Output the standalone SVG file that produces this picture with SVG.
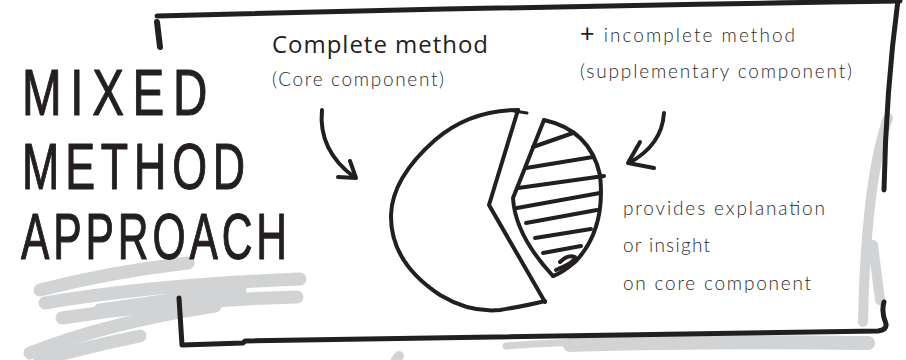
<svg xmlns="http://www.w3.org/2000/svg" width="906" height="360" viewBox="0 0 906 360">
  <style>
    .ink { fill: none; stroke: #231f20; stroke-linecap: round; stroke-linejoin: round; }
    .shade { fill: none; stroke: #d1d3d4; stroke-linecap: round; stroke-linejoin: round; }
    .title { font-family: "Liberation Sans", Arial, sans-serif; font-size: 56px; fill: #231f20; stroke: #231f20; stroke-width: 1; stroke-linejoin: round; }
    .head { font-family: "Open Sans", "Liberation Sans", sans-serif; font-size: 24px; fill: #231f20; }
    .note { font-family: "Lato", "Open Sans", sans-serif; font-weight: 300; font-size: 19px; fill: #2e2a2b; }
  </style>
  <rect width="906" height="360" fill="#ffffff"/>

  <!-- grey marker scribbles behind the frame -->
  <g id="scribbles">
    <g class="shade" stroke-width="13">
      <path d="M40 290 Q110 272 188 263"/>
      <path d="M45 303 Q150 285 300 279"/>
      <path d="M62 318 Q180 300 297 297"/>
      <path d="M30 353 Q110 322 215 306"/>
      <path d="M40 360 Q90 346 140 336"/>
      <path d="M100 310 L240 290"/>
    </g>
    <g class="shade" stroke-width="14">
      <path d="M570 345 Q700 341 868 343"/>
    </g>
    <g class="shade" stroke-width="7">
      <path d="M506 346 Q560 342 620 341"/>
    </g>
    <g class="shade" stroke-width="10">
      <path d="M888 118 Q866 180 863 322"/>
      <path d="M873 245 L880 300"/>
      <path d="M396 360 L399 356"/>
    </g>
  </g>

  <!-- hand-drawn frame -->
  <g id="frame" class="ink">
    <path d="M157 16 Q500 7 900 1" stroke-width="5"/>
    <path d="M157 22 L160 47" stroke-width="6"/>
    <path d="M898 0 Q886 90 884 190" stroke-width="5"/>
    <path d="M179 298 L182 345 L243 343 L245 341 Q550 336 878 331 Q887 330 886 324 Q881 312 884 302" stroke-width="5"/>
  </g>

  <!-- title, narrowed and stretched vertically -->
  <g id="title">
    <text class="title" transform="translate(22 115) scale(0.85 1.17)" textLength="218" lengthAdjust="spacing">MIXED</text>
    <text class="title" transform="translate(22 189) scale(0.8 1.17)" textLength="279" lengthAdjust="spacing">METHOD</text>
    <text class="title" transform="translate(21 259) scale(0.76 1.17)" textLength="350" lengthAdjust="spacing">APPROACH</text>
  </g>

  <!-- labels -->
  <g id="core-label">
    <text class="head" x="272" y="53" textLength="216" lengthAdjust="spacing">Complete method</text>
    <text class="note" x="272" y="86" textLength="172" lengthAdjust="spacing">(Core component)</text>
  </g>
  <g id="supplementary-label">
    <text class="note" x="580" y="42" textLength="215" lengthAdjust="spacing"><tspan font-size="25" font-weight="400" fill="#231f20">+</tspan> incomplete method</text>
    <text class="note" x="580" y="78" textLength="272" lengthAdjust="spacing">(supplementary component)</text>
  </g>
  <g id="insight-label">
    <text class="note" x="623" y="215" textLength="202" lengthAdjust="spacing">provides explanation</text>
    <text class="note" x="623" y="252" textLength="87" lengthAdjust="spacing">or insight</text>
    <text class="note" x="623" y="290" textLength="188" lengthAdjust="spacing">on core component</text>
  </g>

  <!-- pie chart: core slice -->
  <g id="pie-core" class="ink" stroke-width="4">
    <path d="M518 110 Q470 110 435 140 Q392 178 391 215 Q390 262 440 295 Q470 313 500 310 Q530 305 545 301"/>
    <path d="M518 110 L489 205 L545 302"/>
    <path d="M514 111 L527 113" stroke-width="3"/>
  </g>

  <!-- pie chart: supplementary slice with hatching -->
  <g id="pie-supplementary" class="ink" stroke-width="4">
    <path d="M544 120 Q590 130 600 175 Q606 230 575 262 Q562 273 553 276"/>
    <path d="M544 120 L513 198 Q515 235 553 276"/>
    <path d="M533 147 L573 133"/>
    <path d="M526 168 L593 157"/>
    <path d="M518 188 L604 176"/>
    <path d="M517 208 L600 193"/>
    <path d="M526 223 L597 210"/>
    <path d="M535 238 L591 229"/>
    <path d="M543 253 L581 246"/>
    <path d="M556 270 Q575 262 575 257 Q568 254 560 262"/>
  </g>

  <!-- arrows -->
  <g id="connectors" class="ink" stroke-width="4">
    <path d="M322 110 Q318 150 354 177"/>
    <path d="M350 161 L356 178 L338 177"/>
    <path d="M664 113 Q662 145 629 163"/>
    <path d="M640 142 L628 163 L654 168"/>
  </g>
</svg>
